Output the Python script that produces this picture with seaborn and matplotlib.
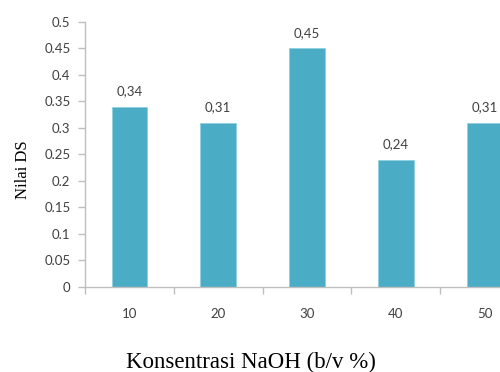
import matplotlib
matplotlib.use("Agg")
import matplotlib.pyplot as plt
import seaborn as sns
import pandas as pd
from matplotlib.ticker import FixedLocator, FuncFormatter

# Degree of substitution for each NaOH concentration
konsentrasi = ["10", "20", "30", "40", "50"]
nilai_ds = [0.34, 0.31, 0.45, 0.24, 0.31]
y_ticks = [0, 0.05, 0.1, 0.15, 0.2, 0.25, 0.3, 0.35, 0.4, 0.45, 0.5]

df = pd.DataFrame({"konsentrasi": konsentrasi, "nilai": nilai_ds})

sns.set_theme(style="white")
plt.rcParams["font.family"] = ["Lato", "DejaVu Sans"]

fig = plt.figure(figsize=(5.0, 3.72), dpi=100)
ax = fig.add_axes([0.170, 0.2293, 0.888, 0.7116])

bar_color = "#4BACC6"
sns.barplot(data=df, x="konsentrasi", y="nilai", color=bar_color, width=0.4,
            saturation=1, edgecolor="#8fd0e0", linewidth=0.6, ax=ax)

axis_grey = "#BFBFBF"
text_grey = "#404040"

ax.set_xlim(-0.5, len(konsentrasi) - 0.5)
ax.set_ylim(0, 0.5)

for side in ("top", "right"):
    ax.spines[side].set_visible(False)
for side in ("left", "bottom"):
    ax.spines[side].set_color(axis_grey)
    ax.spines[side].set_linewidth(1.0)

ax.yaxis.set_major_locator(FixedLocator(y_ticks))
ax.yaxis.set_major_formatter(FuncFormatter(lambda v, p: f"{v:g}"))
ax.tick_params(axis="y", which="major", length=5, width=1.0, color=axis_grey,
               labelsize=9.5, labelcolor=text_grey, pad=5.5, left=True)

ax.tick_params(axis="x", which="major", length=0, labelsize=9.5,
               labelcolor=text_grey, pad=15, bottom=True)
ax.xaxis.set_minor_locator(FixedLocator([i - 0.5 for i in range(len(konsentrasi) + 1)]))
ax.tick_params(axis="x", which="minor", length=5, width=1.0, color=axis_grey, bottom=True)

for i, v in enumerate(nilai_ds):
    ax.text(i, v + 0.022, f"{v:.2f}".replace(".", ","), ha="center", va="baseline",
            fontsize=9.5, color=text_grey)

ax.set_xlabel("Konsentrasi NaOH (b/v %)", family=["Liberation Serif"],
              fontsize=16.5, color="black", va="baseline")
ax.xaxis.set_label_coords(0.3727, -0.307)
ax.set_ylabel("Nilai DS", family=["Liberation Serif"], fontsize=12,
              color="black", va="center")
ax.yaxis.set_label_coords(-0.140, 0.441)

fig.savefig("out.png", dpi=100)
